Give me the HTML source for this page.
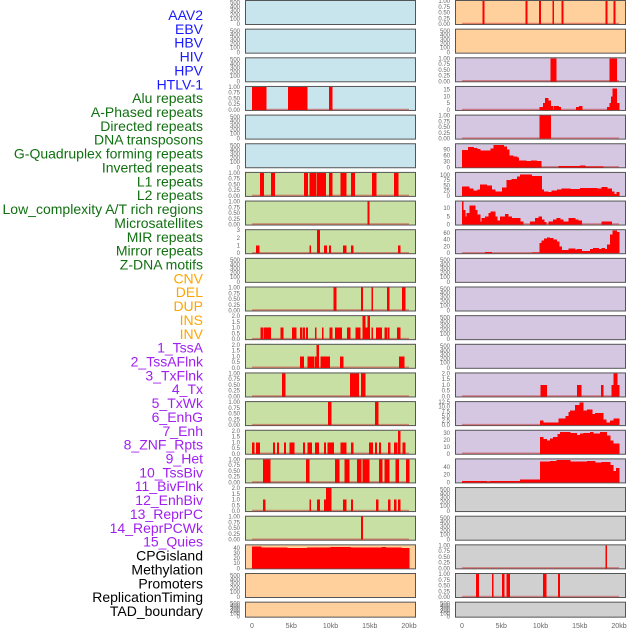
<!DOCTYPE html>
<html><head><meta charset="utf-8"><style>
html,body{margin:0;padding:0;background:#fff;}
#wrap{position:relative;width:630px;height:630px;overflow:hidden;font-family:"Liberation Sans",sans-serif;}
</style></head><body>
<div id="wrap">
<svg id="chart" width="630" height="630" viewBox="0 0 630 630"></svg>
</div>
<script>
const trackLabels = ["AAV2","EBV","HBV","HIV","HPV","HTLV-1","Alu repeats","A-Phased repeats","Directed repeats","DNA transposons","G-Quadruplex forming repeats","Inverted repeats","L1 repeats","L2 repeats","Low_complexity A/T rich regions","Microsatellites","MIR repeats","Mirror repeats","Z-DNA motifs","CNV","DEL","DUP","INS","INV","1_TssA","2_TssAFlnk","3_TxFlnk","4_Tx","5_TxWk","6_EnhG","7_Enh","8_ZNF_Rpts","9_Het","10_TssBiv","11_BivFlnk","12_EnhBiv","13_ReprPC","14_ReprPCWk","15_Quies","CPGisland","Methylation","Promoters","ReplicationTiming","TAD_boundary"];
const labelColors = ["#1a1aff","#1a1aff","#1a1aff","#1a1aff","#1a1aff","#1a1aff","#117011","#117011","#117011","#117011","#117011","#117011","#117011","#117011","#117011","#117011","#117011","#117011","#117011","#ffa500","#ffa500","#ffa500","#ffa500","#ffa500","#a020f0","#a020f0","#a020f0","#a020f0","#a020f0","#a020f0","#a020f0","#a020f0","#a020f0","#a020f0","#a020f0","#a020f0","#a020f0","#a020f0","#a020f0","#000","#000","#000","#000","#000"];
const xTicks = [0,5,10,15,20];
const xTickLabels = ["0","5kb","10kb","15kb","20kb"];
const bgLeft = ["#c8e4ec","#c8e4ec","#c8e4ec","#c8e4ec","#c8e4ec","#c8e4ec","#c8e0a4","#c8e0a4","#c8e0a4","#c8e0a4","#c8e0a4","#c8e0a4","#c8e0a4","#c8e0a4","#c8e0a4","#c8e0a4","#c8e0a4","#c8e0a4","#c8e0a4","#ffd09c","#ffd09c","#ffd09c"];
const bgRight = ["#ffd09c","#ffd09c","#d5c6e2","#d5c6e2","#d5c6e2","#d5c6e2","#d5c6e2","#d5c6e2","#d5c6e2","#d5c6e2","#d5c6e2","#d5c6e2","#d5c6e2","#d5c6e2","#d5c6e2","#d5c6e2","#d5c6e2","#d0d0d0","#d0d0d0","#d0d0d0","#d0d0d0","#d0d0d0"];
const ymaxLeft = [null,null,null,1,null,null,1,1,3,null,1,2,2,1,1,2,1,2,1,45,null,null];
const ymaxRight = [1,null,1,17,1,117,110,14,68,null,null,null,null,2,12.5,33,60,null,null,1,1,null];
const yTicksLeft = [null,null,null,"p",null,null,"p","p",[0,1,2,3],null,"p",[0,0.5,1,1.5,2],[0,0.5,1,1.5,2],"p","p",[0,0.5,1,1.5,2],"p",[0,0.5,1,1.5,2],"p",[0,10,20,30,40],null,null];
const yTicksRight = ["p",null,"p",[0,5,10,15],"p",[0,30,60,90],[0,25,50,75,100],[0,5,10],[0,20,40,60],null,null,null,null,[0,0.5,1,1.5,2],[0,2.5,5,7.5,10,12.5],[0,10,20,30],[0,20,40],null,null,"p","p",null];
const segLeft = [
 [],[],[],
 [[0,1.8,1],[4.6,7.0,1],[9.8,10.2,1]],
 [],[],
 [[1.0,1.5,1],[2.4,2.9,1],[6.6,7.1,1],[7.3,8.2,1],[8.3,9.4,1],[9.8,10.2,1],[11.3,12.0,1],[12.6,13.1,1],[15.3,15.8,1],[18.1,18.6,1]],
 [[14.7,14.9,1]],
 [[0.5,0.9,1],[7.3,7.5,1],[8.3,8.6,3],[9.2,9.5,1],[9.8,10.0,1],[11.6,12.0,1],[12.6,12.9,1],[18.6,18.9,1]],
 [],
 [[10.4,10.7,1],[13.9,14.1,1],[15.2,15.4,1],[17.2,17.5,1],[19.1,19.5,1]],
 [[1.1,1.4,1],[1.5,2.4,1],[3.6,4.0,1],[5.1,5.6,1],[6.1,6.4,1],[6.5,6.7,1],[6.9,7.1,1],[8.0,8.2,1],[8.9,9.1,1],[9.9,10.2,1],[10.6,11.4,1],[12.1,12.5,1],[13.2,13.8,1],[14.1,14.9,1],[14.1,14.4,2],[14.7,15.0,2],[15.2,15.4,1],[15.8,16.5,1],[16.9,17.2,1],[17.3,17.5,1],[18.5,18.9,1]],
 [[6.1,6.6,1],[7.1,7.9,1],[8.0,8.5,1],[8.2,8.5,2],[8.7,9.9,1],[11.2,11.6,1],[18.7,19.4,1]],
 [[3.8,4.2,1],[12.5,13.6,1],[13.9,14.4,1]],
 [[9.7,10.1,1],[15.7,16.1,1]],
 [[0,0.25,1],[0.5,1.0,1],[2.7,2.9,1],[3.2,3.4,1],[4.1,4.3,1],[4.8,5.4,1],[6.5,6.7,1],[7.1,7.6,1],[8.0,8.5,1],[9.2,9.4,1],[9.6,10.4,1],[11.3,12.0,1],[12.6,12.9,1],[14.9,15.4,1],[15.7,15.9,1],[16.2,16.4,1],[17.3,17.6,1],[18.1,18.5,1],[18.6,18.9,2],[19.2,19.5,1]],
 [[1.4,2.3,1],[6.9,7.3,1],[10.6,11.1,1],[11.8,12.4,1],[13.4,13.9,1],[14.1,14.9,1],[16.2,16.6,1],[16.9,17.5,1],[18.3,18.7,1],[19.6,20.0,1]],
 [[1.4,1.7,1],[7.3,7.5,1],[8.3,8.6,1],[9.2,9.4,1],[9.4,10.1,2],[11.6,12.0,1],[12.6,12.8,1],[15.8,16.1,1],[17.3,17.6,1],[18.1,18.4,1],[18.6,18.9,1]],
 [[13.9,14.1,1]],
 [[0,1.2,43],[1.2,4.5,41],[4.5,7,40],[7,10,41],[10,12.5,42],[12.5,16.5,41],[16.5,17,42],[17,19,41],[19,20,40]],
 [],[]
];
const segRight = [
 [[2.6,2.8,1],[8.1,8.3,1],[9.8,10.0,1],[11.5,11.7,1],[12.7,12.9,1],[18.3,18.5,1],[19.3,19.5,1]],
 [],
 [[11.3,12.0,1],[18.8,19.7,1]],
 [[9.9,10.3,2],[10.3,10.6,5],[10.6,11.0,9],[11.0,11.3,7],[11.3,11.6,3],[11.7,12.3,3],[12.3,12.6,2],[14.5,14.9,2],[14.9,15.3,3],[18.5,18.8,2],[18.8,19.0,5],[19.0,19.2,10],[19.2,19.7,16],[19.7,20.0,5]],
 [[9.9,11.3,1]],
 [[0,0.76,88],[0.76,1.5,102],[1.5,1.95,98],[1.95,2.3,92],[2.3,3.6,85],[3.6,4.0,95],[4.0,5.3,113],[5.3,5.7,105],[5.7,6.0,90],[6.0,6.5,60],[6.5,7.0,55],[7.0,7.2,50],[7.2,8.2,35],[8.2,8.8,32],[8.8,9.5,35],[9.5,10.1,33],[12.3,15.0,6],[15.0,15.7,8],[15.7,18.0,5]],
 [[0,0.93,45],[0.93,1.44,35],[1.44,1.95,25],[1.95,2.3,30],[2.3,3.14,55],[3.14,3.78,50],[3.78,4.2,30],[4.2,5.1,22],[5.1,5.7,40],[5.7,6.3,75],[6.3,7.0,82],[7.0,7.4,92],[7.4,8.9,102],[8.9,10.15,95],[10.15,10.4,30],[10.4,11.0,22],[11.0,11.4,18],[11.4,12.1,25],[12.1,12.7,30],[12.7,13.8,35],[13.8,15.0,33],[15.0,15.9,38],[15.9,17.2,38],[17.2,17.8,35],[17.8,18.5,42],[18.5,19.1,35],[19.1,19.4,20],[19.4,19.7,8],[19.7,20,18]],
 [[0,0.17,14],[0.17,0.38,9],[0.38,0.6,5],[0.6,0.93,7],[0.93,1.66,11.5],[1.66,1.95,9],[1.95,2.3,6],[2.3,2.5,2],[2.5,2.93,4],[2.93,3.35,5],[3.35,3.65,7],[3.65,4.2,8],[4.2,4.5,5],[4.5,4.84,2.5],[4.84,5.48,5],[5.48,5.9,6.5],[5.9,6.33,5],[6.33,7.39,4],[7.39,7.8,2],[8.66,9.3,2],[9.3,9.72,4],[9.72,10.15,5],[10.15,10.45,3],[10.45,10.7,1.5],[11.0,11.6,2],[11.6,12.06,3],[12.06,12.5,4],[12.5,12.9,3],[12.9,13.55,2],[13.55,14.4,4],[14.4,14.8,3],[14.8,15.24,2.5],[17.8,19.07,2]],
 [[2.93,3.78,4],[8.9,9.9,2],[9.9,10.15,30],[10.15,10.45,38],[10.45,10.8,43],[10.8,11.2,47],[11.2,11.6,45],[11.6,12.06,40],[12.06,12.4,35],[12.4,12.7,20],[12.7,13.55,10],[13.55,14.4,14],[14.4,14.6,10],[14.6,15.24,12],[15.24,16.3,6],[16.3,16.7,12],[16.7,17.4,15],[17.4,17.8,13],[17.8,18.2,15],[18.2,18.5,12],[18.5,18.85,25],[18.85,19.2,55],[19.2,19.7,67],[19.7,20,62]],
 [],[],[],[],
 [[10.0,10.8,1],[14.65,15.16,1],[17.7,18.0,1],[19.07,19.3,1],[19.3,19.8,2],[19.8,20,1]],
 [[9.94,10.36,2.5],[10.36,12.27,1.5],[12.27,13.2,3.5],[13.2,13.55,5],[13.55,13.76,7],[13.76,14.4,8],[14.4,14.95,11],[14.95,15.46,12.3],[15.46,15.9,8],[15.9,16.56,8.5],[16.56,16.94,6],[16.94,18.0,6.5],[18.0,18.4,3],[18.4,18.85,1.5],[18.85,19.3,2.5],[19.3,20,3.5]],
 [[9.94,10.36,24],[10.36,10.79,21],[10.79,11.2,19],[11.2,11.6,22],[11.6,12.14,24],[12.14,12.48,28],[12.48,13.76,31],[13.76,14.6,30],[14.6,15.03,27],[15.03,15.46,29],[15.46,16.3,30],[16.3,16.73,31],[16.73,17.58,29],[17.58,18.43,31],[18.43,18.85,26],[18.85,19.28,19],[19.28,20,15]],
 [[0,3.14,4],[3.14,3.57,3],[3.57,7.39,4],[7.39,9.94,7],[9.94,10.8,55],[10.8,11.2,54],[11.2,12.06,56],[12.06,13.76,58],[13.76,15.9,55],[15.9,16.94,56],[16.94,17.8,52],[17.8,18.85,53],[18.85,19.28,45],[19.28,19.6,30],[19.6,20,37]],
 [],[],
 [[18.3,18.45,1]],
 [[1.8,2.1,1],[3.8,4.0,1],[5.1,5.4,1],[5.7,6.1,1],[10.3,10.7,1],[12.2,12.45,1]],
 []
];
const emptyTicks = [0,100,200,300,400,500];
const emptyFrac = [0,0.22,0.40,0.58,0.76,0.94];

const NS="http://www.w3.org/2000/svg";
const svg=document.getElementById('chart');
function mk(tag,attrs,parent){const e=document.createElementNS(NS,tag);for(const k in attrs)e.setAttribute(k,attrs[k]);(parent||svg).appendChild(e);return e;}
const ROWSTEP=28.65, PH=25;
function rowTop(i){return i*ROWSTEP;}
function rowH(i){return i===21?16:PH;}
function xScale(kb,col){return (col===0?252:462)+kb*7.85;}
function fmt(v,ticks){const dec=ticks.some(t=>Math.round(t*100)%100!==0)?(ticks.some(t=>Math.round(t*100)%10!==0)?2:1):0;return v.toFixed(dec);}

trackLabels.forEach((t,i)=>{
  const e=mk('text',{x:203,y:20+i*13.86,'text-anchor':'end','font-size':'14','fill':labelColors[i],'font-family':'Liberation Sans, sans-serif'});
  e.textContent=t;
  
  
});

function panel(col,i,bg,ymax,ticksSpec,segs){
  const left=col===0?245:455, right=col===0?416:626;
  const top=rowTop(i), h=rowH(i), bottom=top+h;
  const g=mk('g',{});
  
  
  const r=mk('rect',{x:left+0.5,y:top+0.5,width:right-left-1,height:h-1,fill:bg,stroke:'#555',"stroke-width":1},g);
  
  
  const tx=left-5;
  if(ymax===null){
    emptyTicks.forEach((t,k)=>{
      const y=bottom-1-emptyFrac[k]*(h-2);
      const e=mk('text',{x:tx,y:y+2,'text-anchor':'end','font-size':'6','fill':'#666'},g);
      e.textContent=String(t);
      
      
    });
    return;
  }
  const ys=v=>bottom-1-v/ymax*(h-2);
  const ticks=ticksSpec==="p"?[0,0.25,0.5,0.75,1]:ticksSpec;
  ticks.forEach(t=>{
    const e=mk('text',{x:tx,y:ys(t)+2,'text-anchor':'end','font-size':'6','fill':'#666'},g);
    e.textContent=ticksSpec==="p"?t.toFixed(2):fmt(t,ticks);
    
    
  });
  const base=mk('line',{x1:xScale(0,col),x2:xScale(20,col),y1:bottom-1.5,y2:bottom-1.5,stroke:'rgba(200,60,60,0.55)','stroke-width':1.5},g);
  
  
  segs.forEach(s=>{
    const x1=xScale(s[0],col), x2=xScale(s[1],col), y=ys(Math.min(s[2],ymax));
    const b=mk('rect',{x:x1,y:Math.max(y,top+1),width:Math.max(x2-x1,1.2)+0.3,height:bottom-1-Math.max(y,top+1),fill:'#ff0000','shape-rendering':'crispEdges'},g);
    
    
  });
}
for(let i=0;i<22;i++){
  panel(0,i,bgLeft[i],ymaxLeft[i],yTicksLeft[i],segLeft[i]);
  panel(1,i,bgRight[i],ymaxRight[i],yTicksRight[i],segRight[i]);
}
[0,1].forEach(col=>{
  xTicks.forEach((t,k)=>{
    const e=mk('text',{x:xScale(t,col),y:628,'text-anchor':'middle','font-size':'7','fill':'#666'});
    e.textContent=xTickLabels[k];
    
    
  });
});
</script>
</body></html>
